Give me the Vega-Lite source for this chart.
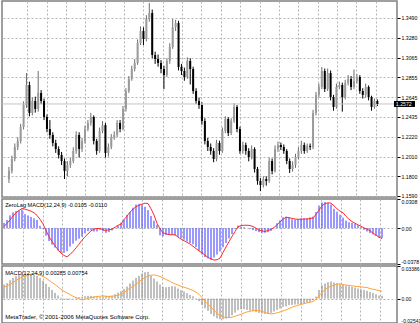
{
"$schema":"https://vega.github.io/schema/vega-lite/v6.json",
"padding":0,
"background":"white",
"spacing":2,
"bounds":"flush",
"config":{
 "view":{"stroke":"#808080","strokeWidth":1.5},
 "font":"Liberation Sans",
 "axis":{"labelFont":"Liberation Sans","labelFontSize":5.2,"labelColor":"#000000","labelOverlap":false,"tickColor":"#000000","tickSize":3,"labelPadding":1,"gridColor":"#b4b4b4","gridDash":[2,2],"gridWidth":1,"domain":false}
},
"data":{"values":[
{"i":1,"o":1.1770,"h":1.1900,"l":1.1728,"c":1.1856,"m1":0.0056,"s1":0.0017,"m2":0.0146,"s2":0.0118},
{"i":2,"o":1.1856,"h":1.2020,"l":1.1830,"c":1.1985,"m1":0.0087,"s1":0.0052,"m2":0.0160,"s2":0.0132},
{"i":3,"o":1.1985,"h":1.2150,"l":1.1960,"c":1.2113,"m1":0.0135,"s1":0.0087,"m2":0.0191,"s2":0.0149},
{"i":4,"o":1.2113,"h":1.2215,"l":1.2080,"c":1.2177,"m1":0.0167,"s1":0.0128,"m2":0.0215,"s2":0.0167},
{"i":5,"o":1.2177,"h":1.2360,"l":1.2150,"c":1.2326,"m1":0.0180,"s1":0.0163,"m2":0.0232,"s2":0.0187},
{"i":6,"o":1.2326,"h":1.2600,"l":1.2300,"c":1.2561,"m1":0.0187,"s1":0.0187,"m2":0.0243,"s2":0.0208},
{"i":7,"o":1.2561,"h":1.2902,"l":1.2530,"c":1.2774,"m1":0.0198,"s1":0.0208,"m2":0.0253,"s2":0.0222},
{"i":8,"o":1.2774,"h":1.2810,"l":1.2440,"c":1.2476,"m1":0.0149,"s1":0.0201,"m2":0.0257,"s2":0.0232},
{"i":9,"o":1.2476,"h":1.2640,"l":1.2450,"c":1.2604,"m1":0.0135,"s1":0.0191,"m2":0.0257,"s2":0.0243},
{"i":10,"o":1.2604,"h":1.2650,"l":1.2480,"c":1.2518,"m1":0.0118,"s1":0.0180,"m2":0.0257,"s2":0.0253},
{"i":11,"o":1.2518,"h":1.2924,"l":1.2490,"c":1.2689,"m1":0.0104,"s1":0.0163,"m2":0.0246,"s2":0.0260},
{"i":12,"o":1.2689,"h":1.2720,"l":1.2570,"c":1.2604,"m1":0.0087,"s1":0.0135,"m2":0.0236,"s2":0.0257},
{"i":13,"o":1.2604,"h":1.2630,"l":1.2400,"c":1.2433,"m1":0.0024,"s1":0.0094,"m2":0.0215,"s2":0.0243},
{"i":14,"o":1.2433,"h":1.2460,"l":1.2270,"c":1.2305,"m1":-0.0010,"s1":0.0045,"m2":0.0184,"s2":0.0229},
{"i":15,"o":1.2305,"h":1.2400,"l":1.2200,"c":1.2241,"m1":-0.0080,"s1":-0.0024,"m2":0.0153,"s2":0.0212},
{"i":16,"o":1.2241,"h":1.2270,"l":1.2120,"c":1.2155,"m1":-0.0135,"s1":-0.0090,"m2":0.0121,"s2":0.0191},
{"i":17,"o":1.2155,"h":1.2190,"l":1.2050,"c":1.2091,"m1":-0.0174,"s1":-0.0139,"m2":0.0090,"s2":0.0167},
{"i":18,"o":1.2091,"h":1.2120,"l":1.1990,"c":1.2027,"m1":-0.0205,"s1":-0.0187,"m2":0.0059,"s2":0.0146},
{"i":19,"o":1.2027,"h":1.2060,"l":1.1920,"c":1.1963,"m1":-0.0236,"s1":-0.0226,"m2":0.0031,"s2":0.0121},
{"i":20,"o":1.1963,"h":1.1990,"l":1.1771,"c":1.1856,"m1":-0.0260,"s1":-0.0264,"m2":0.0010,"s2":0.0097},
{"i":21,"o":1.1856,"h":1.1960,"l":1.1800,"c":1.1921,"m1":-0.0260,"s1":-0.0288,"m2":-0.0007,"s2":0.0076},
{"i":22,"o":1.1921,"h":1.2000,"l":1.1890,"c":1.1963,"m1":-0.0243,"s1":-0.0302,"m2":-0.0014,"s2":0.0059},
{"i":23,"o":1.1963,"h":1.2110,"l":1.1940,"c":1.2070,"m1":-0.0194,"s1":-0.0278,"m2":-0.0007,"s2":0.0042},
{"i":24,"o":1.2070,"h":1.2280,"l":1.2040,"c":1.2241,"m1":-0.0163,"s1":-0.0246,"m2":0.0003,"s2":0.0024},
{"i":25,"o":1.2241,"h":1.2270,"l":1.2000,"c":1.2091,"m1":-0.0132,"s1":-0.0208,"m2":0.0010,"s2":0.0010},
{"i":26,"o":1.2091,"h":1.2210,"l":1.2060,"c":1.2177,"m1":-0.0111,"s1":-0.0170,"m2":0.0014,"s2":0.0000},
{"i":27,"o":1.2177,"h":1.2340,"l":1.2150,"c":1.2305,"m1":-0.0087,"s1":-0.0128,"m2":0.0017,"s2":-0.0014},
{"i":28,"o":1.2305,"h":1.2400,"l":1.2280,"c":1.2369,"m1":-0.0056,"s1":-0.0090,"m2":0.0024,"s2":-0.0007},
{"i":29,"o":1.2369,"h":1.2476,"l":1.2340,"c":1.2433,"m1":-0.0031,"s1":-0.0059,"m2":0.0028,"s2":0.0003},
{"i":30,"o":1.2433,"h":1.2450,"l":1.2140,"c":1.2177,"m1":-0.0021,"s1":-0.0028,"m2":0.0028,"s2":0.0010},
{"i":31,"o":1.2177,"h":1.2200,"l":1.2030,"c":1.2070,"m1":-0.0035,"s1":-0.0010,"m2":0.0021,"s2":0.0017},
{"i":32,"o":1.2070,"h":1.2320,"l":1.2050,"c":1.2283,"m1":-0.0035,"s1":-0.0003,"m2":0.0014,"s2":0.0021},
{"i":33,"o":1.2283,"h":1.2390,"l":1.2260,"c":1.2347,"m1":-0.0017,"s1":-0.0003,"m2":0.0014,"s2":0.0024},
{"i":34,"o":1.2347,"h":1.2370,"l":1.2000,"c":1.2049,"m1":-0.0031,"s1":-0.0017,"m2":0.0021,"s2":0.0028},
{"i":35,"o":1.2049,"h":1.2150,"l":1.2010,"c":1.2113,"m1":-0.0049,"s1":-0.0024,"m2":0.0028,"s2":0.0024},
{"i":36,"o":1.2113,"h":1.2250,"l":1.2090,"c":1.2219,"m1":-0.0042,"s1":-0.0017,"m2":0.0028,"s2":0.0021},
{"i":37,"o":1.2219,"h":1.2280,"l":1.2190,"c":1.2241,"m1":-0.0024,"s1":-0.0010,"m2":0.0031,"s2":0.0024},
{"i":38,"o":1.2241,"h":1.2400,"l":1.2220,"c":1.2369,"m1":-0.0003,"s1":0.0010,"m2":0.0045,"s2":0.0028},
{"i":39,"o":1.2369,"h":1.2400,"l":1.2270,"c":1.2305,"m1":0.0028,"s1":0.0031,"m2":0.0062,"s2":0.0035},
{"i":40,"o":1.2305,"h":1.2550,"l":1.2290,"c":1.2518,"m1":0.0059,"s1":0.0042,"m2":0.0076,"s2":0.0045},
{"i":41,"o":1.2518,"h":1.2740,"l":1.2490,"c":1.2710,"m1":0.0090,"s1":0.0090,"m2":0.0101,"s2":0.0062},
{"i":42,"o":1.2710,"h":1.2870,"l":1.2690,"c":1.2838,"m1":0.0139,"s1":0.0128,"m2":0.0125,"s2":0.0087},
{"i":43,"o":1.2838,"h":1.2980,"l":1.2820,"c":1.2945,"m1":0.0170,"s1":0.0170,"m2":0.0156,"s2":0.0108},
{"i":44,"o":1.2945,"h":1.3050,"l":1.2920,"c":1.3009,"m1":0.0215,"s1":0.0201,"m2":0.0187,"s2":0.0128},
{"i":45,"o":1.3009,"h":1.3260,"l":1.2990,"c":1.3223,"m1":0.0250,"s1":0.0226,"m2":0.0215,"s2":0.0149},
{"i":46,"o":1.3223,"h":1.3400,"l":1.3200,"c":1.3351,"m1":0.0257,"s1":0.0243,"m2":0.0236,"s2":0.0174},
{"i":47,"o":1.3351,"h":1.3390,"l":1.3200,"c":1.3265,"m1":0.0243,"s1":0.0253,"m2":0.0260,"s2":0.0201},
{"i":48,"o":1.3265,"h":1.3520,"l":1.3240,"c":1.3479,"m1":0.0226,"s1":0.0264,"m2":0.0274,"s2":0.0219},
{"i":49,"o":1.3479,"h":1.3650,"l":1.3450,"c":1.3543,"m1":0.0191,"s1":0.0260,"m2":0.0278,"s2":0.0232},
{"i":50,"o":1.3543,"h":1.3580,"l":1.3060,"c":1.3095,"m1":0.0128,"s1":0.0205,"m2":0.0239,"s2":0.0243},
{"i":51,"o":1.3095,"h":1.3130,"l":1.3000,"c":1.3052,"m1":0.0080,"s1":0.0139,"m2":0.0208,"s2":0.0246},
{"i":52,"o":1.3052,"h":1.3100,"l":1.2970,"c":1.3009,"m1":0.0035,"s1":0.0052,"m2":0.0177,"s2":0.0239},
{"i":53,"o":1.3009,"h":1.3040,"l":1.2900,"c":1.2945,"m1":-0.0076,"s1":-0.0007,"m2":0.0146,"s2":0.0229},
{"i":54,"o":1.2945,"h":1.2980,"l":1.2732,"c":1.2881,"m1":-0.0087,"s1":-0.0049,"m2":0.0121,"s2":0.0215},
{"i":55,"o":1.2881,"h":1.3060,"l":1.2860,"c":1.3031,"m1":-0.0073,"s1":-0.0059,"m2":0.0118,"s2":0.0198},
{"i":56,"o":1.3031,"h":1.3220,"l":1.3000,"c":1.3180,"m1":-0.0069,"s1":-0.0069,"m2":0.0121,"s2":0.0184},
{"i":57,"o":1.3180,"h":1.3479,"l":1.3160,"c":1.3393,"m1":-0.0069,"s1":-0.0069,"m2":0.0128,"s2":0.0167},
{"i":58,"o":1.3393,"h":1.3470,"l":1.3350,"c":1.3436,"m1":-0.0076,"s1":-0.0069,"m2":0.0125,"s2":0.0153},
{"i":59,"o":1.3436,"h":1.3460,"l":1.2930,"c":1.2967,"m1":-0.0090,"s1":-0.0094,"m2":0.0104,"s2":0.0142},
{"i":60,"o":1.2967,"h":1.3000,"l":1.2880,"c":1.2924,"m1":-0.0108,"s1":-0.0115,"m2":0.0087,"s2":0.0128},
{"i":61,"o":1.2924,"h":1.2960,"l":1.2820,"c":1.2860,"m1":-0.0121,"s1":-0.0132,"m2":0.0073,"s2":0.0118},
{"i":62,"o":1.2860,"h":1.3070,"l":1.2840,"c":1.3031,"m1":-0.0139,"s1":-0.0149,"m2":0.0056,"s2":0.0108},
{"i":63,"o":1.3031,"h":1.3060,"l":1.2780,"c":1.2945,"m1":-0.0156,"s1":-0.0167,"m2":0.0038,"s2":0.0097},
{"i":64,"o":1.2945,"h":1.2970,"l":1.2680,"c":1.2710,"m1":-0.0170,"s1":-0.0191,"m2":0.0024,"s2":0.0083},
{"i":65,"o":1.2710,"h":1.2740,"l":1.2570,"c":1.2604,"m1":-0.0198,"s1":-0.0215,"m2":0.0007,"s2":0.0066},
{"i":66,"o":1.2604,"h":1.2640,"l":1.2520,"c":1.2561,"m1":-0.0239,"s1":-0.0239,"m2":-0.0028,"s2":0.0045},
{"i":67,"o":1.2561,"h":1.2590,"l":1.2350,"c":1.2390,"m1":-0.0278,"s1":-0.0260,"m2":-0.0066,"s2":0.0010},
{"i":68,"o":1.2390,"h":1.2420,"l":1.2140,"c":1.2177,"m1":-0.0305,"s1":-0.0285,"m2":-0.0101,"s2":-0.0028},
{"i":69,"o":1.2177,"h":1.2210,"l":1.2070,"c":1.2113,"m1":-0.0319,"s1":-0.0309,"m2":-0.0128,"s2":-0.0059},
{"i":70,"o":1.2113,"h":1.2150,"l":1.2030,"c":1.2070,"m1":-0.0333,"s1":-0.0323,"m2":-0.0160,"s2":-0.0090},
{"i":71,"o":1.2070,"h":1.2100,"l":1.1950,"c":1.1985,"m1":-0.0309,"s1":-0.0337,"m2":-0.0184,"s2":-0.0121},
{"i":72,"o":1.1985,"h":1.2190,"l":1.1960,"c":1.2155,"m1":-0.0278,"s1":-0.0333,"m2":-0.0205,"s2":-0.0153},
{"i":73,"o":1.2155,"h":1.2180,"l":1.2030,"c":1.2070,"m1":-0.0246,"s1":-0.0316,"m2":-0.0215,"s2":-0.0177},
{"i":74,"o":1.2070,"h":1.2320,"l":1.2050,"c":1.2283,"m1":-0.0201,"s1":-0.0257,"m2":-0.0215,"s2":-0.0191},
{"i":75,"o":1.2283,"h":1.2440,"l":1.2260,"c":1.2412,"m1":-0.0156,"s1":-0.0198,"m2":-0.0208,"s2":-0.0198},
{"i":76,"o":1.2412,"h":1.2430,"l":1.2230,"c":1.2262,"m1":-0.0108,"s1":-0.0142,"m2":-0.0194,"s2":-0.0198},
{"i":77,"o":1.2262,"h":1.2420,"l":1.2240,"c":1.2390,"m1":-0.0062,"s1":-0.0087,"m2":-0.0174,"s2":-0.0194},
{"i":78,"o":1.2390,"h":1.2582,"l":1.2370,"c":1.2540,"m1":-0.0010,"s1":-0.0035,"m2":-0.0146,"s2":-0.0184},
{"i":79,"o":1.2540,"h":1.2560,"l":1.2270,"c":1.2305,"m1":0.0028,"s1":0.0014,"m2":-0.0121,"s2":-0.0174},
{"i":80,"o":1.2305,"h":1.2330,"l":1.2040,"c":1.2070,"m1":0.0017,"s1":0.0028,"m2":-0.0111,"s2":-0.0163},
{"i":81,"o":1.2070,"h":1.2170,"l":1.2040,"c":1.2134,"m1":0.0010,"s1":0.0031,"m2":-0.0111,"s2":-0.0149},
{"i":82,"o":1.2134,"h":1.2160,"l":1.2030,"c":1.2070,"m1":0.0000,"s1":0.0031,"m2":-0.0118,"s2":-0.0139},
{"i":83,"o":1.2070,"h":1.2100,"l":1.1960,"c":1.2006,"m1":-0.0010,"s1":0.0028,"m2":-0.0125,"s2":-0.0132},
{"i":84,"o":1.2006,"h":1.2130,"l":1.1980,"c":1.2091,"m1":-0.0021,"s1":0.0017,"m2":-0.0132,"s2":-0.0125},
{"i":85,"o":1.2091,"h":1.2110,"l":1.1840,"c":1.1878,"m1":-0.0031,"s1":0.0000,"m2":-0.0142,"s2":-0.0125},
{"i":86,"o":1.1878,"h":1.1900,"l":1.1710,"c":1.1750,"m1":-0.0042,"s1":-0.0021,"m2":-0.0149,"s2":-0.0125},
{"i":87,"o":1.1750,"h":1.1780,"l":1.1643,"c":1.1707,"m1":-0.0049,"s1":-0.0028,"m2":-0.0156,"s2":-0.0132},
{"i":88,"o":1.1707,"h":1.1800,"l":1.1680,"c":1.1771,"m1":-0.0049,"s1":-0.0035,"m2":-0.0160,"s2":-0.0146},
{"i":89,"o":1.1771,"h":1.1800,"l":1.1700,"c":1.1750,"m1":-0.0042,"s1":-0.0024,"m2":-0.0160,"s2":-0.0153},
{"i":90,"o":1.1750,"h":1.2000,"l":1.1730,"c":1.1963,"m1":-0.0028,"s1":-0.0014,"m2":-0.0149,"s2":-0.0160},
{"i":91,"o":1.1963,"h":1.1990,"l":1.1820,"c":1.1856,"m1":0.0003,"s1":0.0007,"m2":-0.0135,"s2":-0.0156},
{"i":92,"o":1.1856,"h":1.2130,"l":1.1840,"c":1.2091,"m1":0.0052,"s1":0.0035,"m2":-0.0118,"s2":-0.0149},
{"i":93,"o":1.2091,"h":1.2170,"l":1.2060,"c":1.2134,"m1":0.0083,"s1":0.0066,"m2":-0.0104,"s2":-0.0139},
{"i":94,"o":1.2134,"h":1.2160,"l":1.2080,"c":1.2113,"m1":0.0115,"s1":0.0094,"m2":-0.0087,"s2":-0.0128},
{"i":95,"o":1.2113,"h":1.2140,"l":1.2040,"c":1.2070,"m1":0.0121,"s1":0.0115,"m2":-0.0080,"s2":-0.0118},
{"i":96,"o":1.2070,"h":1.2090,"l":1.1930,"c":1.1963,"m1":0.0111,"s1":0.0111,"m2":-0.0069,"s2":-0.0104},
{"i":97,"o":1.1963,"h":1.1990,"l":1.1835,"c":1.1878,"m1":0.0094,"s1":0.0104,"m2":-0.0066,"s2":-0.0090},
{"i":98,"o":1.1878,"h":1.1960,"l":1.1850,"c":1.1921,"m1":0.0090,"s1":0.0097,"m2":-0.0062,"s2":-0.0080},
{"i":99,"o":1.1921,"h":1.2040,"l":1.1890,"c":1.2006,"m1":0.0097,"s1":0.0094,"m2":-0.0059,"s2":-0.0069},
{"i":100,"o":1.2006,"h":1.2110,"l":1.1980,"c":1.2070,"m1":0.0104,"s1":0.0094,"m2":-0.0056,"s2":-0.0062},
{"i":101,"o":1.2070,"h":1.2180,"l":1.2040,"c":1.2134,"m1":0.0104,"s1":0.0097,"m2":-0.0049,"s2":-0.0052},
{"i":102,"o":1.2134,"h":1.2160,"l":1.2040,"c":1.2070,"m1":0.0104,"s1":0.0097,"m2":-0.0042,"s2":-0.0045},
{"i":103,"o":1.2070,"h":1.2150,"l":1.2050,"c":1.2123,"m1":0.0115,"s1":0.0101,"m2":-0.0035,"s2":-0.0038},
{"i":104,"o":1.2123,"h":1.2150,"l":1.2080,"c":1.2113,"m1":0.0121,"s1":0.0108,"m2":-0.0017,"s2":-0.0031},
{"i":105,"o":1.2113,"h":1.2510,"l":1.2090,"c":1.2476,"m1":0.0170,"s1":0.0146,"m2":0.0021,"s2":-0.0007},
{"i":106,"o":1.2476,"h":1.2700,"l":1.2450,"c":1.2668,"m1":0.0239,"s1":0.0191,"m2":0.0090,"s2":0.0028},
{"i":107,"o":1.2668,"h":1.2790,"l":1.2640,"c":1.2753,"m1":0.0271,"s1":0.0236,"m2":0.0139,"s2":0.0062},
{"i":108,"o":1.2753,"h":1.2967,"l":1.2730,"c":1.2924,"m1":0.0274,"s1":0.0260,"m2":0.0156,"s2":0.0094},
{"i":109,"o":1.2924,"h":1.2950,"l":1.2700,"c":1.2732,"m1":0.0267,"s1":0.0267,"m2":0.0170,"s2":0.0115},
{"i":110,"o":1.2732,"h":1.2950,"l":1.2710,"c":1.2902,"m1":0.0250,"s1":0.0264,"m2":0.0177,"s2":0.0128},
{"i":111,"o":1.2902,"h":1.2930,"l":1.2610,"c":1.2646,"m1":0.0205,"s1":0.0236,"m2":0.0167,"s2":0.0139},
{"i":112,"o":1.2646,"h":1.2670,"l":1.2500,"c":1.2540,"m1":0.0174,"s1":0.0205,"m2":0.0160,"s2":0.0149},
{"i":113,"o":1.2540,"h":1.2790,"l":1.2520,"c":1.2753,"m1":0.0142,"s1":0.0180,"m2":0.0149,"s2":0.0153},
{"i":114,"o":1.2753,"h":1.2810,"l":1.2730,"c":1.2774,"m1":0.0111,"s1":0.0163,"m2":0.0142,"s2":0.0146},
{"i":115,"o":1.2774,"h":1.2800,"l":1.2490,"c":1.2646,"m1":0.0080,"s1":0.0125,"m2":0.0135,"s2":0.0142},
{"i":116,"o":1.2646,"h":1.2830,"l":1.2620,"c":1.2796,"m1":0.0062,"s1":0.0094,"m2":0.0128,"s2":0.0135},
{"i":117,"o":1.2796,"h":1.2880,"l":1.2770,"c":1.2838,"m1":0.0056,"s1":0.0069,"m2":0.0121,"s2":0.0132},
{"i":118,"o":1.2838,"h":1.2870,"l":1.2720,"c":1.2753,"m1":0.0045,"s1":0.0052,"m2":0.0115,"s2":0.0128},
{"i":119,"o":1.2753,"h":1.2940,"l":1.2730,"c":1.2817,"m1":0.0031,"s1":0.0035,"m2":0.0104,"s2":0.0125},
{"i":120,"o":1.2817,"h":1.2890,"l":1.2790,"c":1.2860,"m1":0.0010,"s1":0.0021,"m2":0.0097,"s2":0.0121},
{"i":121,"o":1.2860,"h":1.2880,"l":1.2680,"c":1.2710,"m1":-0.0017,"s1":0.0003,"m2":0.0090,"s2":0.0118},
{"i":122,"o":1.2710,"h":1.2740,"l":1.2630,"c":1.2668,"m1":-0.0035,"s1":-0.0010,"m2":0.0080,"s2":0.0115},
{"i":123,"o":1.2668,"h":1.2790,"l":1.2640,"c":1.2753,"m1":-0.0052,"s1":-0.0028,"m2":0.0069,"s2":0.0104},
{"i":124,"o":1.2753,"h":1.2770,"l":1.2610,"c":1.2646,"m1":-0.0066,"s1":-0.0052,"m2":0.0059,"s2":0.0097},
{"i":125,"o":1.2646,"h":1.2660,"l":1.2500,"c":1.2540,"m1":-0.0083,"s1":-0.0073,"m2":0.0045,"s2":0.0090},
{"i":126,"o":1.2540,"h":1.2630,"l":1.2520,"c":1.2604,"m1":-0.0101,"s1":-0.0094,"m2":0.0031,"s2":0.0083},
{"i":127,"o":1.2604,"h":1.2620,"l":1.2550,"c":1.2572,"m1":-0.0105,"s1":-0.0110,"m2":0.00285,"s2":0.00754}
]},
"vconcat":[
{
 "width":395,"height":196,
 "resolve":{"axis":{"x":"independent","y":"independent"}},
 "layer":[
  {"mark":{"type":"rule","strokeWidth":1},
   "encoding":{
    "x":{"field":"i","type":"quantitative","title":null,"scale":{"domain":[0.3333,132],"nice":false,"zero":false},
         "axis":{"values":[7.233,13.857,20.48,27.103,33.727,40.35,46.973,53.597,60.22,66.843,73.467,80.09,86.713,93.337,99.96,106.583,113.207,119.83,126.453],"grid":true,"labels":false,"ticks":false,"domain":false,"title":null}},
    "y":{"field":"l","type":"quantitative","title":null,"scale":{"domain":[1.1579,1.3671],"nice":false,"zero":false},
         "axis":{"orient":"right","values":[1.159,1.18,1.201,1.222,1.2435,1.2645,1.2855,1.3065,1.328,1.349],"format":".4f","labelOverlap":false,"grid":true,"title":null}},
    "y2":{"field":"h"},
    "color":{"condition":{"test":"datum.c > datum.o","value":"#6e6e6e"},"value":"#000000"}}},
  {"transform":[{"filter":"datum.i == 127"}],
   "mark":{"type":"rule","color":"#c4c4c4","strokeWidth":1},
   "encoding":{"y":{"field":"c","type":"quantitative","axis":null}}},
  {"mark":{"type":"bar","size":2},
   "encoding":{
    "x":{"field":"i","type":"quantitative","axis":null},
    "y":{"field":"o","type":"quantitative","axis":null},
    "y2":{"field":"c"},
    "color":{"condition":{"test":"datum.c > datum.o","value":"#9a9a9a"},"value":"#000000"}}},
  {"transform":[{"filter":"datum.i == 127"}],
   "mark":{"type":"tick","orient":"horizontal","size":21,"thickness":6,"color":"#000000","opacity":1},
   "encoding":{"x":{"datum":136.27,"type":"quantitative","axis":null},"y":{"field":"c","type":"quantitative","axis":null}}},
  {"transform":[{"filter":"datum.i == 127"}],
   "mark":{"type":"text","align":"left","baseline":"middle","fontSize":5.2,"color":"#ffffff","font":"Liberation Sans"},
   "encoding":{"x":{"datum":133.3,"type":"quantitative","axis":null},"y":{"field":"c","type":"quantitative","axis":null},"text":{"field":"c","format":".4f"}}}
 ]
},
{
 "width":395,"height":65,
 "resolve":{"axis":{"x":"independent","y":"independent"}},
 "layer":[
  {"mark":{"type":"rule","color":"#3333ff","strokeWidth":1},
   "encoding":{
    "x":{"field":"i","type":"quantitative","title":null,"scale":{"domain":[0.3333,132],"nice":false,"zero":false},
         "axis":{"values":[7.233,13.857,20.48,27.103,33.727,40.35,46.973,53.597,60.22,66.843,73.467,80.09,86.713,93.337,99.96,106.583,113.207,119.83,126.453],"grid":true,"labels":false,"ticks":false,"domain":false,"title":null}},
    "y":{"field":"m1","type":"quantitative","title":null,"scale":{"domain":[-0.0378,0.0308],"nice":false,"zero":false},
         "axis":{"orient":"right","values":[-0.0378,0,0.0308],"labelFlush":true,"labelOverlap":false,"labelExpr":"datum.value == 0 ? '0.00' : (datum.value < 0 ? '-' + format(-datum.value, '.4f') : format(datum.value, '.4f'))","grid":true,"gridOpacity":{"condition":{"test":"datum.value == 0","value":1},"value":0},"title":null}},
    "y2":{"datum":0}}},
  {"mark":{"type":"line","color":"#ff2a2a","strokeWidth":1},
   "encoding":{"x":{"field":"i","type":"quantitative","axis":null},"y":{"field":"s1","type":"quantitative","axis":null}}},
  {"transform":[{"filter":"datum.i == 1"}],
   "mark":{"type":"text","text":"ZeroLag MACD(12,24,9) -0.0105 -0.0110","align":"left","baseline":"middle","fontSize":5.6,"color":"#000000","font":"Liberation Sans"},
   "encoding":{"x":{"datum":1.4,"type":"quantitative","axis":null},"y":{"datum":0.0245,"type":"quantitative","axis":null}}}
 ]
},
{
 "width":395,"height":57,
 "resolve":{"axis":{"x":"independent","y":"independent"}},
 "layer":[
  {"mark":{"type":"rule","color":"#808080","strokeWidth":1},
   "encoding":{
    "x":{"field":"i","type":"quantitative","title":null,"scale":{"domain":[0.3333,132],"nice":false,"zero":false},
         "axis":{"values":[7.233,13.857,20.48,27.103,33.727,40.35,46.973,53.597,60.22,66.843,73.467,80.09,86.713,93.337,99.96,106.583,113.207,119.83,126.453],"grid":true,"labels":false,"ticks":false,"domain":false,"title":null}},
    "y":{"field":"m2","type":"quantitative","title":null,"scale":{"domain":[-0.02541,0.03386],"nice":false,"zero":false},
         "axis":{"orient":"right","values":[-0.02541,0,0.03386],"labelFlush":true,"labelOverlap":false,"labelFontSize":5,"labelExpr":"datum.value == 0 ? '0.00' : (datum.value < 0 ? '-' + format(-datum.value, '.5f') : format(datum.value, '.5f'))","grid":true,"gridOpacity":{"condition":{"test":"datum.value == 0","value":1},"value":0},"title":null}},
    "y2":{"datum":0}}},
  {"mark":{"type":"line","color":"#ffa43a","strokeWidth":1},
   "encoding":{"x":{"field":"i","type":"quantitative","axis":null},"y":{"field":"s2","type":"quantitative","axis":null}}},
  {"transform":[{"filter":"datum.i == 1"}],
   "mark":{"type":"text","text":"MACD(12,24,9) 0.00285 0.00754","align":"left","baseline":"middle","fontSize":5.6,"color":"#000000","font":"Liberation Sans"},
   "encoding":{"x":{"datum":1.4,"type":"quantitative","axis":null},"y":{"datum":0.0271,"type":"quantitative","axis":null}}},
  {"transform":[{"filter":"datum.i == 1"}],
   "mark":{"type":"text","text":"MetaTrader, © 2001-2006 MetaQuotes Software Corp.","align":"left","baseline":"middle","fontSize":6,"color":"#000000","font":"Liberation Sans"},
   "encoding":{"x":{"datum":1.4,"type":"quantitative","axis":null},"y":{"datum":-0.0190,"type":"quantitative","axis":null}}}
 ]
}
]
}
